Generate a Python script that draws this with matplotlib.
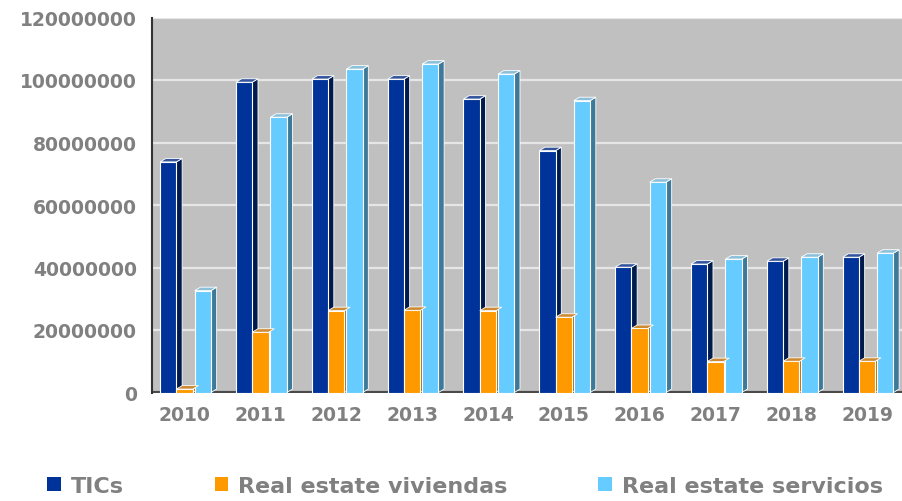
import numpy as np
import matplotlib
matplotlib.use('Agg')
import matplotlib.pyplot as plt
from matplotlib.patches import Polygon, Patch

# data
years = ['2010', '2011', '2012', '2013', '2014', '2015', '2016', '2017', '2018', '2019']
tics = [73.8, 99.3, 100.3, 100.3, 93.9, 77.4, 40.1, 41.1, 42.0, 43.3]
viviendas = [1.1, 19.3, 26.2, 26.3, 26.2, 24.1, 20.5, 9.9, 10.0, 10.0]
servicios = [32.6, 88.1, 103.5, 105.1, 101.9, 93.4, 67.3, 42.7, 43.3, 44.6]
series_names = ['TICs', 'Real estate viviendas', 'Real estate servicios']

# front, side, top colours for each series
front_cols = ['#003399', '#ff9900', '#66ccff']
side_cols = ['#001a4d', '#b36b00', '#3d7a99']
top_cols = ['#34559c', '#cc8a33', '#8cc0d9']

plt.rcParams['font.family'] = 'DejaVu Sans'

fig = plt.figure(figsize=(9.02, 5.02), dpi=100)
ax = fig.add_axes([152 / 902, 108.5 / 502, 750 / 902, 375 / 502])
ax.set_facecolor('#c0c0c0')

x = np.arange(len(years))
width = 0.215
offsets = [-0.215, 0.0, 0.24]
dx = 0.075      # depth of the fake 3D, category units
dy = 1.1e6      # depth of the fake 3D, value units

# dark floor line
ax.axhline(0, color='#4a4a4a', lw=3, zorder=1)

for values, off, fc, sc, tc in zip([tics, viviendas, servicios], offsets,
                                    front_cols, side_cols, top_cols):
    vals = np.array(values) * 1e6
    xs = x + off
    ax.bar(xs, vals, width, color=fc, edgecolor='white', linewidth=0.8, zorder=3)
    for xi, h in zip(xs, vals):
        r = xi + width / 2
        l = xi - width / 2
        side = Polygon([(r, 0), (r + dx, dy), (r + dx, h + dy), (r, h)],
                       closed=True, facecolor=sc, edgecolor='white', lw=0.6, zorder=2.9)
        top = Polygon([(l, h), (l + dx, h + dy), (r + dx, h + dy), (r, h)],
                      closed=True, facecolor=tc, edgecolor='white', lw=0.6, zorder=3.1)
        ax.add_patch(side)
        ax.add_patch(top)

ax.set_ylim(0, 120e6)
ax.set_yticks(np.arange(0, 120e6 + 1, 20e6))
ax.set_yticklabels([str(int(v)) for v in np.arange(0, 120e6 + 1, 20e6)])
ax.set_xlim(-0.43, 9.46)
ax.set_xticks(x)
ax.set_xticklabels(years)
ax.grid(axis='y', color='#e6e6e6', lw=1.6, zorder=0)
ax.set_axisbelow(True)

for s in ['top', 'right', 'bottom']:
    ax.spines[s].set_visible(False)
ax.spines['left'].set_color('#333333')
ax.spines['left'].set_linewidth(1.5)

ax.tick_params(axis='both', length=0, labelsize=13.5, labelcolor='#808080')
ax.tick_params(axis='y', pad=11)
ax.tick_params(axis='x', pad=9)
for lab in ax.get_xticklabels() + ax.get_yticklabels():
    lab.set_fontweight('bold')

handles = [Patch(facecolor=c, edgecolor='none') for c in front_cols]
leg = fig.legend(handles, series_names, loc='lower left', bbox_to_anchor=(0.04, -0.012),
                 ncol=3, frameon=False, handlelength=0.6, handleheight=0.6,
                 handletextpad=0.45, columnspacing=4.1, borderpad=0,
                 prop={'size': 16, 'weight': 'bold'})
for t in leg.get_texts():
    t.set_color('#808080')

fig.savefig('out.png', dpi=100)
